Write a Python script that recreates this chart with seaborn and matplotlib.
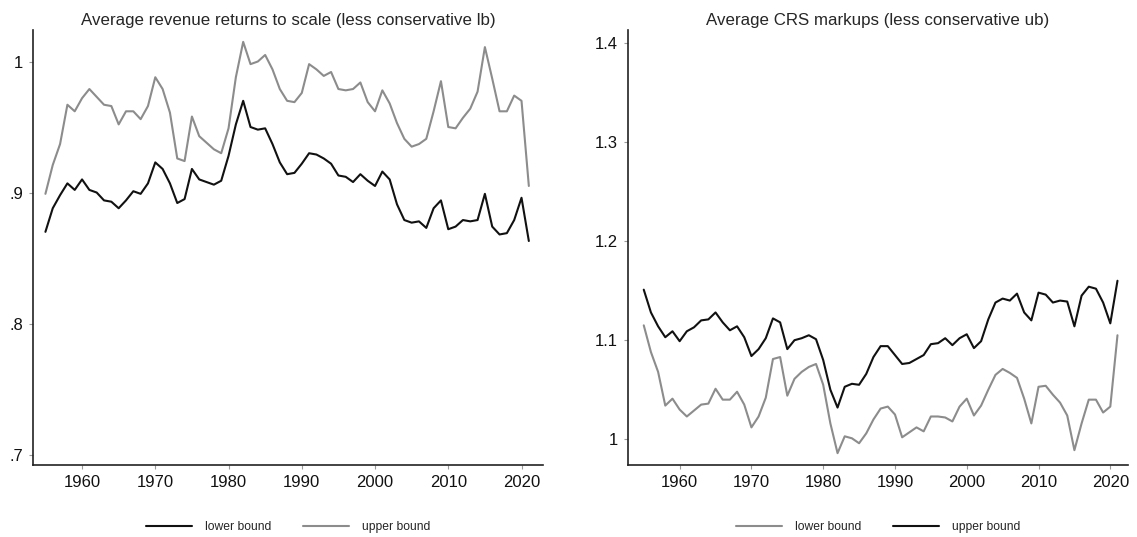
import pandas as pd
import matplotlib
matplotlib.use("Agg")
import matplotlib.pyplot as plt
import seaborn as sns

years = list(range(1955, 2022))

# revenue returns to scale (less conservative lb)
rts_lower = [0.870, 0.888, 0.898, 0.907, 0.902, 0.910, 0.902, 0.900, 0.894, 0.893,
             0.888, 0.894, 0.901, 0.899, 0.907, 0.923, 0.918, 0.907, 0.892, 0.895,
             0.918, 0.910, 0.908, 0.906, 0.909, 0.928, 0.952, 0.970, 0.950, 0.948,
             0.949, 0.937, 0.923, 0.914, 0.915, 0.922, 0.930, 0.929, 0.926, 0.922,
             0.913, 0.912, 0.908, 0.914, 0.909, 0.905, 0.916, 0.910, 0.891, 0.879,
             0.877, 0.878, 0.873, 0.888, 0.894, 0.872, 0.874, 0.879, 0.878, 0.879,
             0.899, 0.874, 0.868, 0.869, 0.879, 0.896, 0.863]
rts_upper = [0.899, 0.921, 0.937, 0.967, 0.962, 0.972, 0.979, 0.973, 0.967, 0.966,
             0.952, 0.962, 0.962, 0.956, 0.966, 0.988, 0.979, 0.961, 0.926, 0.924,
             0.958, 0.943, 0.938, 0.933, 0.930, 0.949, 0.988, 1.015, 0.998, 1.000,
             1.005, 0.994, 0.979, 0.970, 0.969, 0.976, 0.998, 0.994, 0.989, 0.992,
             0.979, 0.978, 0.979, 0.984, 0.969, 0.962, 0.978, 0.968, 0.953, 0.941,
             0.935, 0.937, 0.941, 0.962, 0.985, 0.950, 0.949, 0.957, 0.964, 0.977,
             1.011, 0.987, 0.962, 0.962, 0.974, 0.970, 0.905]

# CRS markups (less conservative ub)
mk_lower = [1.115, 1.088, 1.068, 1.034, 1.041, 1.030, 1.023, 1.029, 1.035, 1.036,
            1.051, 1.040, 1.040, 1.048, 1.035, 1.012, 1.023, 1.042, 1.081, 1.083,
            1.044, 1.061, 1.068, 1.073, 1.076, 1.055, 1.016, 0.986, 1.003, 1.001,
            0.996, 1.006, 1.020, 1.031, 1.033, 1.025, 1.002, 1.007, 1.012, 1.008,
            1.023, 1.023, 1.022, 1.018, 1.033, 1.041, 1.024, 1.034, 1.050, 1.065,
            1.071, 1.067, 1.062, 1.041, 1.016, 1.053, 1.054, 1.045, 1.037, 1.024,
            0.989, 1.016, 1.040, 1.040, 1.027, 1.033, 1.105]
mk_upper = [1.151, 1.128, 1.114, 1.103, 1.109, 1.099, 1.109, 1.113, 1.120, 1.121,
            1.128, 1.118, 1.110, 1.114, 1.103, 1.084, 1.091, 1.102, 1.122, 1.118,
            1.091, 1.100, 1.102, 1.105, 1.101, 1.080, 1.050, 1.032, 1.053, 1.056,
            1.055, 1.066, 1.083, 1.094, 1.094, 1.085, 1.076, 1.077, 1.081, 1.085,
            1.096, 1.097, 1.102, 1.095, 1.102, 1.106, 1.092, 1.099, 1.121, 1.138,
            1.142, 1.140, 1.147, 1.128, 1.120, 1.148, 1.146, 1.138, 1.140, 1.139,
            1.114, 1.145, 1.154, 1.152, 1.138, 1.117, 1.160]

rts_ticks = [0.7, 0.8, 0.9, 1.0]
rts_ticklabels = [".7", ".8", ".9", "1"]
mk_ticks = [1.0, 1.1, 1.2, 1.3, 1.4]
mk_ticklabels = ["1", "1.1", "1.2", "1.3", "1.4"]
year_ticks = [1960, 1970, 1980, 1990, 2000, 2010, 2020]

rts = pd.DataFrame({"year": years * 2,
                    "value": rts_lower + rts_upper,
                    "bound": ["lower bound"] * len(years) + ["upper bound"] * len(years)})
mk = pd.DataFrame({"year": years * 2,
                   "value": mk_lower + mk_upper,
                   "bound": ["lower bound"] * len(years) + ["upper bound"] * len(years)})

sns.set_theme(style="ticks")
plt.rcParams['font.family'] = ['Liberation Sans', 'DejaVu Sans']

fig = plt.figure(figsize=(11.37, 5.37), dpi=100)
ax1 = fig.add_axes([0.029, 0.134, 0.449, 0.810])
ax2 = fig.add_axes([0.5523, 0.134, 0.440, 0.810])

black = "#111111"
gray = "#8c8c8c"

sns.lineplot(data=rts, x="year", y="value", hue="bound", ax=ax1,
             palette={"lower bound": black, "upper bound": gray}, linewidth=1.5)
sns.lineplot(data=mk, x="year", y="value", hue="bound", ax=ax2,
             palette={"lower bound": gray, "upper bound": black}, linewidth=1.5)

ax1.set_title("Average revenue returns to scale (less conservative lb)", fontsize=12.2, pad=4)
ax2.set_title("Average CRS markups (less conservative ub)", fontsize=12.2, pad=4)
ax1.set_xlim(1953.3, 2023)
ax1.set_ylim(0.692, 1.024)
ax1.set_yticks(rts_ticks, rts_ticklabels)
ax2.set_xlim(1952.8, 2022.5)
ax2.set_ylim(0.974, 1.413)
ax2.set_yticks(mk_ticks, mk_ticklabels)

for ax in (ax1, ax2):
    ax.set_xticks(year_ticks)
    ax.set_xlabel("")
    ax.set_ylabel("")
    ax.tick_params(labelsize=12, length=3, width=0.8, color="#999999",
                   labelcolor="#111111", pad=4)
    for s in ("left", "bottom"):
        ax.spines[s].set_linewidth(1.2)
        ax.spines[s].set_color("#222222")
    sns.despine(ax=ax)
    sns.move_legend(ax, "center", bbox_to_anchor=(0.5, -0.143), ncol=2, frameon=False,
                    title=None, fontsize=8.7, handlelength=3.8, handletextpad=1.1,
                    columnspacing=2.6)

fig.savefig("out.png", dpi=100)
